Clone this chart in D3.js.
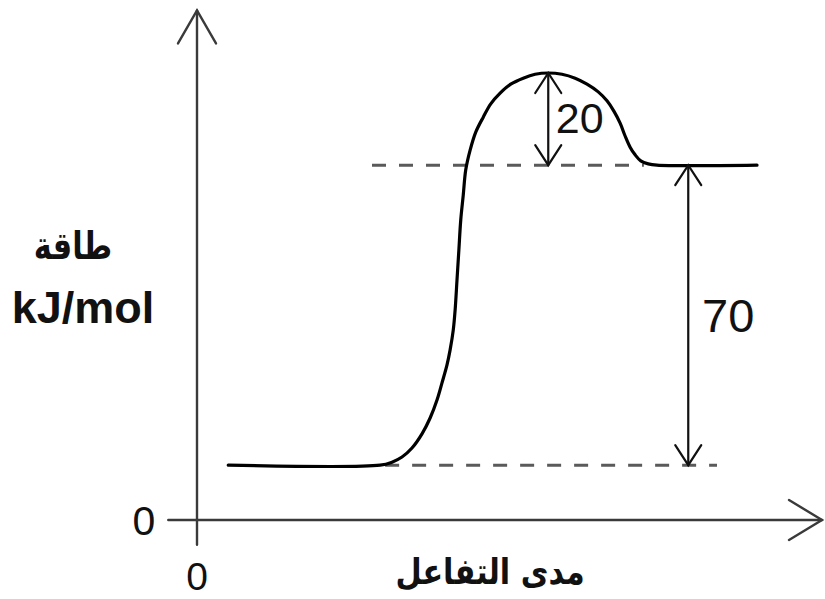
<!DOCTYPE html>
<html>
<head>
<meta charset="utf-8">
<script src="https://cdn.jsdelivr.net/npm/d3@7"></script>
<style>
  html, body { margin: 0; padding: 0; background: #fff; }
  svg { display: block; }
</style>
</head>
<body>
<svg id="chart" width="825" height="599"></svg>
<script>
// ---- data (reaction progress, energy) ----
const progress = [5.0, 29.3, 31.2, 32.8, 34.4, 36.0, 37.3, 38.4, 39.2, 40.0, 40.5, 41.0, 41.3, 41.6, 41.9, 42.2, 42.6, 43.0, 43.7, 44.6, 45.8, 47.0, 48.5, 50.2, 52.2, 54.1, 56.2, 58.4, 60.5, 62.4, 64.2, 65.6, 66.7, 67.7, 68.5, 69.3, 70.1, 71.0, 72.2, 73.6, 89.6];
const energy   = [12.8, 12.8, 13.5, 14.7, 16.8, 20.1, 23.8, 28.0, 32.0, 36.2, 39.7, 44.3, 49.0, 56.0, 63.0, 70.0, 75.8, 81.7, 86.3, 90.5, 94.0, 97.1, 99.6, 101.7, 103.1, 104.0, 104.3, 104.0, 103.1, 101.7, 99.9, 97.8, 95.4, 92.6, 89.6, 87.0, 85.2, 83.8, 83.1, 82.8, 82.8];
const reactantEnergy = 12.8;
const productEnergy = 82.8;
const peakEnergy = 104.3;
const peakProgress = 56.2;
const deltaH = "70";
const activation = "20";
const yTickLabels = ["0"];
const xTickLabels = ["0"];
const yTitle = ["طاقة", "kJ/mol"];
const xTitle = "مدى التفاعل";

// ---- scales ----
const x = d3.scaleLinear().domain([0, 100]).range([197, 822]);
const y = d3.scaleLinear().domain([0, 100]).range([520, 91.43]);

const svg = d3.select("#chart");

// ---- axes ----
const axisColor = "#3a3a3a";
const axes = svg.append("g").attr("stroke", axisColor).attr("stroke-width", 2.4).attr("fill", "none")
  .attr("stroke-linecap", "round");
// y axis
axes.append("line").attr("x1", x(0)).attr("x2", x(0)).attr("y1", y(-5.8)).attr("y2", y(118.9));
axes.append("path").attr("d", d3.line()([[x(0) - 19, y(118.9) + 33], [x(0), y(118.9)], [x(0) + 19, y(118.9) + 33]]));
// x axis
axes.append("line").attr("x1", x(-4.6)).attr("x2", x(100)).attr("y1", y(0)).attr("y2", y(0));
axes.append("path").attr("d", d3.line()([[x(100) - 33, y(0) - 20], [x(100), y(0)], [x(100) - 33, y(0) + 20]]));

// tick labels
svg.append("g").selectAll("text").data(yTickLabels).join("text")
  .attr("x", x(0) - 53).attr("y", y(0)).attr("dy", "0.36em")
  .attr("text-anchor", "middle")
  .style("font-family", "Arial, 'Liberation Sans', sans-serif").style("font-size", "41px").attr("fill", "#111")
  .text(d => d);
svg.append("g").selectAll("text").data(xTickLabels).join("text")
  .attr("x", x(0)).attr("y", y(0) + 56).attr("dy", "0.36em")
  .attr("text-anchor", "middle")
  .style("font-family", "Arial, 'Liberation Sans', sans-serif").style("font-size", "39px").attr("fill", "#111")
  .text(d => d);

// axis titles
svg.append("text").attr("transform", "translate(73,259) scale(0.8,1)").attr("text-anchor", "middle")
  .style("font-family", "'DejaVu Sans', sans-serif").style("font-weight", "bold").style("font-size", "38px")
  .attr("fill", "#111").text(yTitle[0]);
svg.append("text").attr("x", 83).attr("y", 323).attr("text-anchor", "middle")
  .style("font-family", "Arial, 'Liberation Sans', sans-serif").style("font-weight", "bold").style("font-size", "45px")
  .attr("fill", "#111").text(yTitle[1]);
svg.append("text").attr("transform", "translate(490,584) scale(0.84,1)").attr("text-anchor", "middle")
  .style("font-family", "'DejaVu Sans', sans-serif").style("font-weight", "bold").style("font-size", "36px")
  .attr("fill", "#111").text(xTitle);

// ---- dashed reference lines ----
const dash = svg.append("g").attr("stroke", "#5a5a5a").attr("stroke-width", 3).attr("stroke-dasharray", "14,13");
dash.append("line").attr("x1", x(30.1)).attr("x2", x(83.2)).attr("y1", y(reactantEnergy)).attr("y2", y(reactantEnergy));
dash.append("line").attr("x1", x(28.0)).attr("x2", x(71.5)).attr("y1", y(productEnergy)).attr("y2", y(productEnergy));

// ---- energy curve ----
const pts = progress.map((p, i) => [p, energy[i]]);
const line = d3.line().x(d => x(d[0])).y(d => y(d[1])).curve(d3.curveCatmullRom.alpha(0.5));
svg.append("path").datum(pts).attr("d", line)
  .attr("fill", "none").attr("stroke", "#000").attr("stroke-width", 3.2).attr("stroke-linejoin", "round").attr("stroke-linecap", "round");

// ---- double arrows ----
function doubleArrow(px, e1, e2) {
  const g = svg.append("g").attr("stroke", "#111").attr("stroke-width", 2.2).attr("fill", "none").attr("stroke-linecap", "round");
  const xx = x(px), yTop = y(e2), yBot = y(e1);
  g.append("line").attr("x1", xx).attr("x2", xx).attr("y1", yTop).attr("y2", yBot);
  g.append("path").attr("d", d3.line()([[xx - 13, yTop + 20], [xx, yTop], [xx + 13, yTop + 20]]));
  g.append("path").attr("d", d3.line()([[xx - 13, yBot - 20], [xx, yBot], [xx + 13, yBot - 20]]));
}
doubleArrow(peakProgress, productEnergy, peakEnergy);
doubleArrow(78.6, reactantEnergy, productEnergy);

// annotation labels
svg.append("text").attr("x", x(57.4)).attr("y", y(93.8)).attr("dy", "0.36em")
  .style("font-family", "Arial, 'Liberation Sans', sans-serif").style("font-size", "43px").attr("fill", "#111")
  .text(activation);
svg.append("text").attr("x", x(80.8)).attr("y", y(47.8)).attr("dy", "0.36em")
  .style("font-family", "Arial, 'Liberation Sans', sans-serif").style("font-size", "47px").attr("fill", "#111")
  .text(deltaH);
</script>
</body>
</html>
